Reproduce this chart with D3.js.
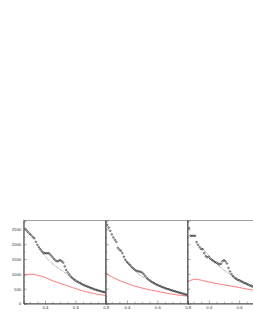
<!DOCTYPE html>
<html>
<head>
<meta charset="utf-8">
<script src="https://cdn.jsdelivr.net/npm/d3@7"></script>
<style>
    body { margin: 0; background: #fff; }
    svg { display: block; }
    .tick text { font-family: "Liberation Sans", Arial, sans-serif; font-size: 4.3px; fill: #333; }
</style>
</head>
<body>
<div id="chart"></div>
<script>
// x positions of the measured points (step 0.01)
const xData = [0.27,0.28,0.29,0.30,0.31,0.32,0.33,0.34,0.35,0.36,0.37,0.38,0.39,0.40,0.41,0.42,0.43,0.44,0.45,0.46,
    0.47,0.48,0.49,0.50,0.51,0.52,0.53,0.54,0.55,0.56,0.57,0.58,0.59,0.60,0.61,0.62,0.63,0.64,0.65,0.66,
    0.67,0.68,0.69,0.70,0.71,0.72,0.73,0.74,0.75,0.76,0.77,0.78,0.79,0.80];

const dataPanel1 = [2520,2460,2400,2350,2300,2240,2200,2080,1980,1900,1830,1760,1710,1700,1690,1700,1680,1620,1560,1500,
    1450,1420,1440,1460,1430,1380,1250,1130,1050,980,910,860,815,780,745,715,690,660,635,610,
    590,570,550,530,510,490,470,455,440,425,410,395,385,375];
const dataPanel2 = [2650,2560,2450,2330,2230,2150,2080,1880,1820,1780,1700,1580,1470,1400,1350,1300,1240,1190,1150,1110,
    1090,1080,1070,1040,990,930,870,820,780,740,710,680,650,625,605,585,560,540,520,500,
    485,470,450,435,420,405,390,375,360,345,330,315,300,290];
const dataPanel3 = [2540,2290,2280,2290,2280,2070,1980,1900,1840,1830,1700,1600,1560,1580,1510,1470,1440,1400,1380,1350,
    1320,1340,1420,1460,1420,1350,1200,1080,990,920,870,830,800,780,755,730,700,680,660,635,
    610,590,570,555,540,525,510,495,480,465,450,440,430,420];

// red curve (step 0.02)
const xRed = [0.26,0.28,0.30,0.32,0.34,0.36,0.38,0.40,0.42,0.44,0.46,0.48,0.50,0.52,0.54,0.56,0.58,0.60,0.62,0.64,
    0.66,0.68,0.70,0.72,0.74,0.76,0.78,0.80];
const redPanel1 = [930,970,990,985,965,945,915,880,835,790,750,715,680,645,610,575,540,505,470,440,
    410,385,360,340,320,300,285,275];
const redPanel2 = [1050,960,900,850,800,760,720,680,640,605,575,545,520,495,470,450,430,410,390,370,
    350,330,315,300,285,270,260,250];
const redPanel3 = [740,780,810,820,800,775,750,725,705,685,665,645,630,610,595,575,560,540,520,500,
    480,460,445,430,415,400,390,380];

// dotted fit (step 0.04)
const xFit1 = [0.36,0.40,0.44,0.48,0.52,0.56,0.60,0.64,0.68,0.72,0.76,0.80];
const fitPanel1 = [1880,1600,1380,1220,1080,940,790,680,580,500,430,370];
const xFit2 = [0.38,0.40,0.44,0.48,0.52,0.56,0.60,0.64,0.68,0.72,0.76,0.80];
const fitPanel2 = [1530,1400,1170,980,850,730,630,545,470,405,345,290];
const xFit3 = [0.36,0.40,0.44,0.48,0.52,0.56,0.60,0.64,0.68,0.72,0.76,0.80];
const fitPanel3 = [1850,1620,1400,1210,1050,920,810,710,620,545,480,420];

const xTicksMajor = [0.4, 0.6, 0.8];
const xTicksMajorLast = [0.4, 0.6];   // last pad runs past the window edge
const xTicksMinor = [0.3, 0.35, 0.45, 0.5, 0.55, 0.65, 0.7, 0.75];
const yTicksMajor = [0, 500, 1000, 1500, 2000, 2500];
const yTicksMinor = [250, 750, 1250, 1750, 2250, 2750];

const panels = [
    { left: 23.7, data: dataPanel1, red: redPanel1, xFit: xFit1, fit: fitPanel1, labels: true, xTicks: xTicksMajor },
    { left: 105.7, data: dataPanel2, red: redPanel2, xFit: xFit2, fit: fitPanel2, labels: false, xTicks: xTicksMajor },
    { left: 187.5, data: dataPanel3, red: redPanel3, xFit: xFit3, fit: fitPanel3, labels: false, xTicks: xTicksMajorLast }
];

const width = 253;
const height = 327;
const panelWidth = 82;
const plotTop = 220.5;
const plotBottom = 303.5;

const svg = d3.select("#chart")
    .append("svg")
    .attr("width", width)
    .attr("height", height);

svg.append("rect")
    .attr("width", width)
    .attr("height", height)
    .attr("fill", "#fff");

const yScale = d3.scaleLinear()
    .domain([0, 2800])
    .range([plotBottom, plotTop]);

panels.forEach((p, idx) => {
    const xScale = d3.scaleLinear()
        .domain([0.26, 0.8])
        .range([p.left, p.left + panelWidth]);

    const g = svg.append("g");

    const clipId = "clip" + idx;
    svg.append("clipPath")
        .attr("id", clipId)
        .append("rect")
        .attr("x", p.left)
        .attr("y", plotTop)
        .attr("width", panelWidth)
        .attr("height", plotBottom - plotTop);

    const plot = g.append("g").attr("clip-path", `url(#${clipId})`);

    // red line
    const redLine = d3.line()
        .x((d, i) => xScale(xRed[i]))
        .y(d => yScale(d))
        .curve(d3.curveMonotoneX);
    plot.append("path")
        .datum(p.red)
        .attr("d", redLine)
        .attr("fill", "none")
        .attr("stroke", "#ff5555")
        .attr("stroke-width", 0.8);

    // dotted fit
    const fitLine = d3.line()
        .x((d, i) => xScale(p.xFit[i]))
        .y(d => yScale(d))
        .curve(d3.curveMonotoneX);
    plot.append("path")
        .datum(p.fit)
        .attr("d", fitLine)
        .attr("fill", "none")
        .attr("stroke", "#222")
        .attr("stroke-width", 0.5)
        .attr("stroke-dasharray", "0.8,0.8");

    // data points
    plot.selectAll(".pt")
        .data(p.data)
        .enter().append("circle")
        .attr("class", "pt")
        .attr("cx", (d, i) => xScale(xData[i]))
        .attr("cy", d => yScale(d))
        .attr("r", 0.8)
        .attr("fill", "none")
        .attr("stroke", "#111")
        .attr("stroke-width", 0.6);

    // frame
    g.append("rect")
        .attr("x", p.left)
        .attr("y", plotTop)
        .attr("width", panelWidth)
        .attr("height", plotBottom - plotTop)
        .attr("fill", "none")
        .attr("stroke", "#666")
        .attr("stroke-width", 0.6);

    // x axis
    g.append("g")
        .attr("transform", "translate(0," + plotBottom + ")")
        .call(d3.axisBottom(xScale).tickValues(p.xTicks).tickSize(-3).tickPadding(2).tickFormat(d3.format(".1f")));
    g.append("g")
        .attr("transform", "translate(0," + plotBottom + ")")
        .call(d3.axisBottom(xScale).tickValues(xTicksMinor).tickSize(-1.5).tickFormat(""));

    // y axis
    g.append("g")
        .attr("transform", "translate(" + p.left + ",0)")
        .call(d3.axisLeft(yScale).tickValues(yTicksMajor).tickSize(-3).tickPadding(2.5)
            .tickFormat(p.labels ? d3.format("d") : ""));
    g.append("g")
        .attr("transform", "translate(" + p.left + ",0)")
        .call(d3.axisLeft(yScale).tickValues(yTicksMinor).tickSize(-1.5).tickFormat(""));

    g.selectAll(".domain").attr("stroke", "#555").attr("stroke-width", 0.6);
    g.selectAll(".tick line").attr("stroke", "#555").attr("stroke-width", 0.5);
});
</script>
</body>
</html>
